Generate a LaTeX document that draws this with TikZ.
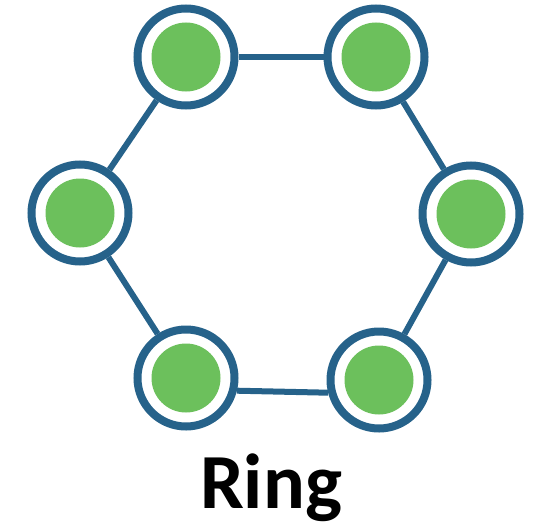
\documentclass[tikz,border=0pt]{standalone}
\usepackage{fontspec}
\setsansfont{Carlito}
\usepackage{tikz}
\definecolor{ringblue}{RGB}{38,98,138}
\definecolor{nodegreen}{RGB}{108,192,92}

\begin{document}
\begin{tikzpicture}[
    x=1pt, y=-1pt,
    station/.style={circle, draw=ringblue, line width=8pt, fill=white, minimum size=97pt,
                inner sep=0pt,
                path picture={\fill[nodegreen] (path picture bounding box.center) circle (34.5pt);}},
    link/.style={draw=ringblue, line width=6pt}
]
\useasboundingbox (0,0) rectangle (545,527);
\node[station] (tl) at (186,57) {};
\node[station] (tr) at (376,57) {};
\node[station] (r) at (471,214) {};
\node[station] (br) at (379,380) {};
\node[station] (bl) at (186,378) {};
\node[station] (l) at (80,213) {};
\draw[link] (tl) -- (tr);
\draw[link] (tr) -- (r);
\draw[link] (r) -- (br);
\draw[link] (br.194) -- (bl.-14);
\draw[link] (bl) -- (l);
\draw[link] (l) -- (tl);
\node[font=\sffamily\bfseries\fontsize{78}{80}\selectfont, anchor=base] (title) at (271,508) {Ring};
\end{tikzpicture}
\end{document}
